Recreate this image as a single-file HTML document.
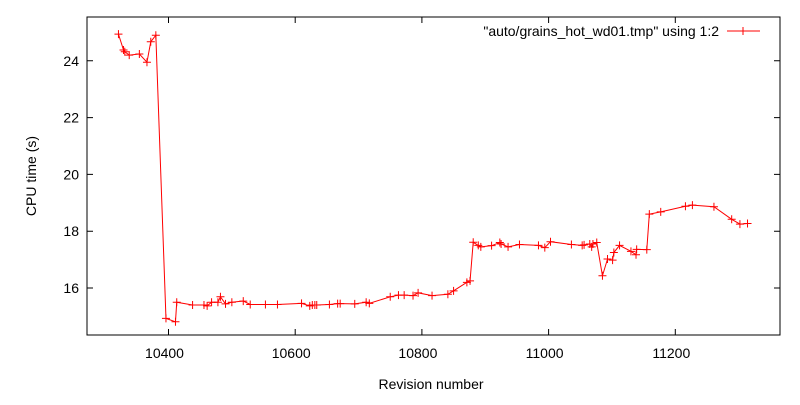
<!DOCTYPE html>
<html><head><meta charset="utf-8"><style>
body{margin:0;background:#fff}
text{font-family:"Liberation Sans",Arial,sans-serif;font-size:14px;fill:#000}
</style></head><body>
<svg id="chart" width="800" height="400" xmlns="http://www.w3.org/2000/svg">
<rect x="0" y="0" width="800" height="400" fill="#fff"/>
<g id="axes"></g>
<g id="series"></g>
<rect x="87" y="17" width="693" height="318" fill="none" stroke="#000" stroke-width="1"/>
<text transform="translate(36,176) rotate(-90)" text-anchor="middle">CPU time (s)</text>
<text x="431" y="389" text-anchor="middle">Revision number</text>
<g>
<text x="719" y="36" text-anchor="end">"auto/grains_hot_wd01.tmp" using 1:2</text>
<line x1="727" y1="31" x2="760" y2="31" stroke="#f00" stroke-width="1"/>
<path d="M739,31h8M743,27v8" stroke="#f00" stroke-width="1"/>
</g>
</svg>
<script>
const revisions=[10321,10329,10331,10338,10354,10366,10372,10380,10396,10411,10413,10438,10456,10461,10468,10478,10482,10490,10500,10518,10529,10553,10572,10610,10623,10627,10631,10634,10654,10667,10671,10694,10712,10717,10750,10763,10772,10786,10794,10816,10841,10850,10871,10876,10881,10889,10893,10910,10923,10925,10936,10954,10984,10994,11003,11036,11053,11056,11065,11068,11070,11076,11085,11093,11101,11103,11112,11130,11138,11139,11155,11159,11177,11216,11227,11261,11289,11302,11314];
const cpuTimes=[24.94,24.38,24.32,24.2,24.24,23.95,24.67,24.9,14.93,14.81,15.5,15.4,15.4,15.37,15.5,15.5,15.69,15.44,15.5,15.54,15.42,15.42,15.42,15.46,15.37,15.4,15.4,15.4,15.42,15.45,15.45,15.44,15.5,15.46,15.69,15.75,15.75,15.73,15.83,15.73,15.78,15.9,16.2,16.25,17.61,17.5,17.45,17.49,17.6,17.55,17.45,17.53,17.5,17.42,17.63,17.53,17.5,17.52,17.55,17.45,17.55,17.6,16.43,17.02,16.98,17.25,17.5,17.29,17.17,17.36,17.35,18.6,18.68,18.88,18.92,18.86,18.42,18.25,18.27];
const xTicks=[10400,10600,10800,11000,11200];
const yTicks=[16,18,20,22,24];
const NS="http://www.w3.org/2000/svg";
function xs(v){return 168.5+(v-10400)*0.6335;}
function ys(v){return 288-(v-16)*28.4;}
const axes=document.getElementById('axes'),series=document.getElementById('series');
function mk(t,a,p){const e=document.createElementNS(NS,t);for(const k in a)e.setAttribute(k,a[k]);p.appendChild(e);return e;}
xTicks.forEach(v=>{const x=xs(v);
const l=mk('path',{d:`M${x},335v-6M${x},17v6`,stroke:'#000'},axes);


const t=mk('text',{x:x-4,y:358,'text-anchor':'middle'},axes);t.textContent=v;

});
yTicks.forEach(v=>{const y=ys(v);
const l=mk('path',{d:`M87,${y}h6M780,${y}h-6`,stroke:'#000'},axes);


const t=mk('text',{x:79,y:y+5,'text-anchor':'end'},axes);t.textContent=v;

});
const pts=revisions.map((r,i)=>[xs(r),ys(cpuTimes[i])]);
const line=mk('polyline',{points:pts.map(p=>p.join(',')).join(' '),fill:'none',stroke:'#f00','stroke-width':1},series);


pts.forEach(p=>{const m=mk('path',{d:`M${p[0]-4},${p[1]}h8M${p[0]},${p[1]-4}v8`,stroke:'#f00','stroke-width':1},series);

});
</script>
</body></html>
